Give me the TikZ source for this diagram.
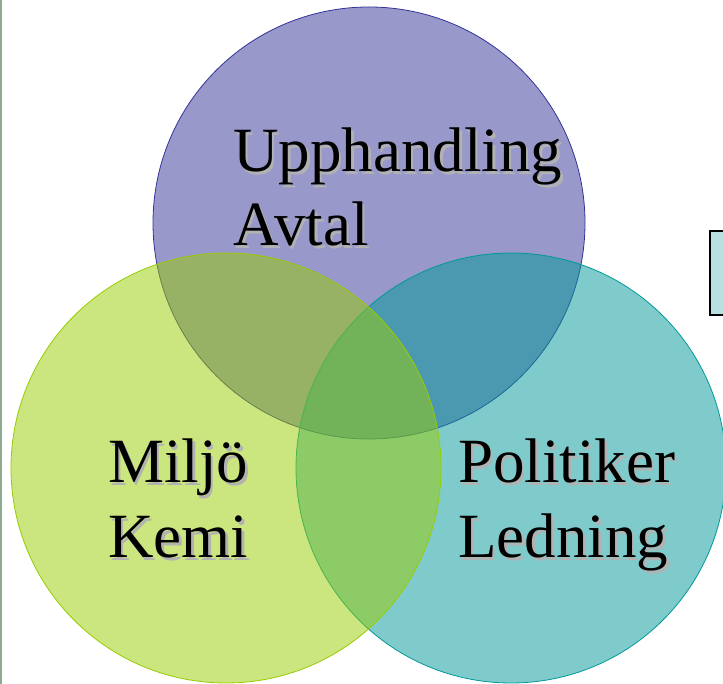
\documentclass[tikz,border=0pt]{standalone}
\usepackage{fontspec}
\setmainfont{Liberation Serif}
\definecolor{topc}{RGB}{51,51,153}
\definecolor{leftc}{RGB}{153,204,0}
\definecolor{rightc}{RGB}{0,153,153}
\definecolor{boxc}{RGB}{184,224,224}
\definecolor{edgec}{RGB}{143,170,143}
\definecolor{shadowc}{RGB}{178,178,178}
\tikzset{
  venn/.style={fill opacity=0.5, line width=0.8pt},
  lbl/.style={anchor=base west, inner sep=0pt, font=\fontsize{63}{75}\selectfont, text=black},
  lblsh/.style={lbl, text=shadowc},
}
\newcommand{\shlabel}[3]{%
  \node[lblsh] (#1s) at ([xshift=2.5pt,yshift=-2.5pt]#2) {#3};
  \node[lbl] (#1) at (#2) {#3};
}
\begin{document}
\begin{tikzpicture}[x=1pt,y=1pt]
\useasboundingbox (0,0) rectangle (723,684);
\clip (0,0) rectangle (723,684);
\fill[white] (0,0) rectangle (723,684);
\draw[edgec, line width=1.5pt] (1,0) -- (1,684);
\draw[black, line width=2pt, fill=boxc] (709.5,453) rectangle (740,369);
\draw[venn, draw=topc, fill=topc] (369,461) circle (216);
\draw[venn, draw=rightc, fill=rightc] (511,216) circle (215);
\draw[venn, draw=leftc, fill=leftc] (226,216) circle (215);
\coordinate (p1) at (233,512);
\coordinate (p2) at (233,438);
\coordinate (p3) at (108,201);
\coordinate (p4) at (108,126);
\coordinate (p5) at (458,201);
\coordinate (p6) at (458,126);
\shlabel{t1}{p1}{Upphandling}
\shlabel{t2}{p2}{Avtal}
\shlabel{t3}{p3}{Miljö}
\shlabel{t4}{p4}{Kemi}
\shlabel{t5}{p5}{Politiker}
\shlabel{t6}{p6}{Ledning}
\end{tikzpicture}
\end{document}
